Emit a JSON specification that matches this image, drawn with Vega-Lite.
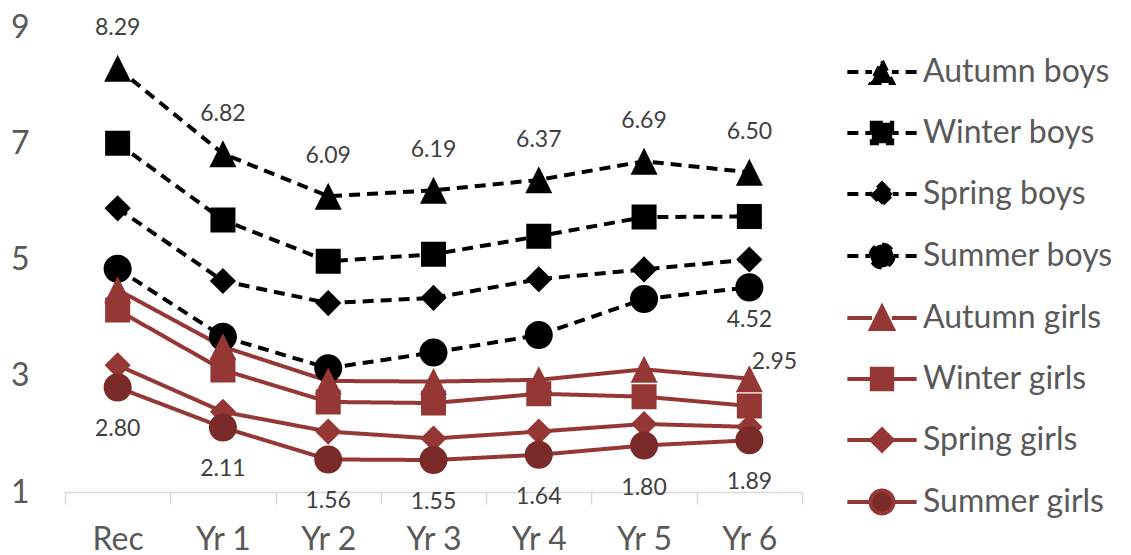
{
  "$schema": "https://vega.github.io/schema/vega-lite/v6.json",
  "width": 737,
  "height": 465,
  "autosize": {"type": "none"},
  "padding": {"left": 65, "top": 27, "right": 329, "bottom": 63},
  "background": "white",
  "config": {"view": {"stroke": null}, "font": "Lato"},
  "data": {"values": [
    {"series": "Autumn boys", "year": "Rec", "value": 8.29},
    {"series": "Autumn boys", "year": "Yr 1", "value": 6.82},
    {"series": "Autumn boys", "year": "Yr 2", "value": 6.09},
    {"series": "Autumn boys", "year": "Yr 3", "value": 6.19},
    {"series": "Autumn boys", "year": "Yr 4", "value": 6.37},
    {"series": "Autumn boys", "year": "Yr 5", "value": 6.69},
    {"series": "Autumn boys", "year": "Yr 6", "value": 6.50},
    {"series": "Winter boys", "year": "Rec", "value": 7.00},
    {"series": "Winter boys", "year": "Yr 1", "value": 5.68},
    {"series": "Winter boys", "year": "Yr 2", "value": 4.97},
    {"series": "Winter boys", "year": "Yr 3", "value": 5.09},
    {"series": "Winter boys", "year": "Yr 4", "value": 5.40},
    {"series": "Winter boys", "year": "Yr 5", "value": 5.73},
    {"series": "Winter boys", "year": "Yr 6", "value": 5.74},
    {"series": "Spring boys", "year": "Rec", "value": 5.88},
    {"series": "Spring boys", "year": "Yr 1", "value": 4.63},
    {"series": "Spring boys", "year": "Yr 2", "value": 4.25},
    {"series": "Spring boys", "year": "Yr 3", "value": 4.34},
    {"series": "Spring boys", "year": "Yr 4", "value": 4.66},
    {"series": "Spring boys", "year": "Yr 5", "value": 4.83},
    {"series": "Spring boys", "year": "Yr 6", "value": 5.00},
    {"series": "Summer boys", "year": "Rec", "value": 4.84},
    {"series": "Summer boys", "year": "Yr 1", "value": 3.67},
    {"series": "Summer boys", "year": "Yr 2", "value": 3.13},
    {"series": "Summer boys", "year": "Yr 3", "value": 3.40},
    {"series": "Summer boys", "year": "Yr 4", "value": 3.70},
    {"series": "Summer boys", "year": "Yr 5", "value": 4.32},
    {"series": "Summer boys", "year": "Yr 6", "value": 4.52},
    {"series": "Autumn girls", "year": "Rec", "value": 4.48},
    {"series": "Autumn girls", "year": "Yr 1", "value": 3.50},
    {"series": "Autumn girls", "year": "Yr 2", "value": 2.91},
    {"series": "Autumn girls", "year": "Yr 3", "value": 2.90},
    {"series": "Autumn girls", "year": "Yr 4", "value": 2.93},
    {"series": "Autumn girls", "year": "Yr 5", "value": 3.11},
    {"series": "Autumn girls", "year": "Yr 6", "value": 2.95},
    {"series": "Winter girls", "year": "Rec", "value": 4.13},
    {"series": "Winter girls", "year": "Yr 1", "value": 3.10},
    {"series": "Winter girls", "year": "Yr 2", "value": 2.55},
    {"series": "Winter girls", "year": "Yr 3", "value": 2.53},
    {"series": "Winter girls", "year": "Yr 4", "value": 2.69},
    {"series": "Winter girls", "year": "Yr 5", "value": 2.64},
    {"series": "Winter girls", "year": "Yr 6", "value": 2.48},
    {"series": "Spring girls", "year": "Rec", "value": 3.18},
    {"series": "Spring girls", "year": "Yr 1", "value": 2.38},
    {"series": "Spring girls", "year": "Yr 2", "value": 2.04},
    {"series": "Spring girls", "year": "Yr 3", "value": 1.92},
    {"series": "Spring girls", "year": "Yr 4", "value": 2.04},
    {"series": "Spring girls", "year": "Yr 5", "value": 2.17},
    {"series": "Spring girls", "year": "Yr 6", "value": 2.12},
    {"series": "Summer girls", "year": "Rec", "value": 2.80},
    {"series": "Summer girls", "year": "Yr 1", "value": 2.11},
    {"series": "Summer girls", "year": "Yr 2", "value": 1.56},
    {"series": "Summer girls", "year": "Yr 3", "value": 1.55},
    {"series": "Summer girls", "year": "Yr 4", "value": 1.64},
    {"series": "Summer girls", "year": "Yr 5", "value": 1.80},
    {"series": "Summer girls", "year": "Yr 6", "value": 1.89}
  ]},
  "encoding": {
    "x": {
      "field": "year", "type": "nominal",
      "sort": ["Rec", "Yr 1", "Yr 2", "Yr 3", "Yr 4", "Yr 5", "Yr 6"],
      "scale": {"type": "band", "paddingInner": 0, "paddingOuter": 0},
      "axis": {
        "title": null, "labelAngle": 0, "tickBand": "extent",
        "domainColor": "#d9d9d9", "domainWidth": 1.5,
        "tickColor": "#d9d9d9", "tickWidth": 1.5, "tickSize": 12,
        "labelFontSize": 32, "labelColor": "#595959", "labelPadding": 20,
        "labelFont": "Lato", "grid": false
      }
    },
    "y": {
      "field": "value", "type": "quantitative",
      "scale": {"domain": [1, 9], "nice": false, "zero": false},
      "axis": {
        "title": null, "values": [1, 3, 5, 7, 9], "grid": false,
        "domain": false, "ticks": false, "labelFontSize": 32,
        "labelColor": "#595959", "labelPadding": 36, "labelFont": "Lato"
      }
    }
  },
  "layer": [
    {
      "mark": {"type": "line", "strokeWidth": 4, "strokeCap": "butt"},
      "encoding": {
        "color": {
          "field": "series", "type": "nominal",
          "scale": {
            "domain": ["Autumn boys", "Winter boys", "Spring boys", "Summer boys", "Autumn girls", "Winter girls", "Spring girls", "Summer girls"],
            "range": ["#000000", "#000000", "#000000", "#000000", "#953735", "#953735", "#953735", "#953735"]
          },
          "legend": {
            "title": null, "orient": "none", "legendX": 778, "legendY": 29,
            "padding": 0, "symbolSize": 484, "symbolStrokeWidth": 4,
            "symbolOffset": 23, "labelOffset": 25, "rowPadding": 23,
            "labelFontSize": 32, "labelColor": "#595959", "labelFont": "Lato",
            "labelLimit": 400, "symbolOpacity": 1
          }
        },
        "strokeDash": {
          "field": "series", "type": "nominal",
          "scale": {
            "domain": ["Autumn boys", "Winter boys", "Spring boys", "Summer boys", "Autumn girls", "Winter girls", "Spring girls", "Summer girls"],
            "range": [[11, 7], [11, 7], [11, 7], [11, 7], [1, 0], [1, 0], [1, 0], [1, 0]]
          },
          "legend": null
        }
      }
    },
    {
      "mark": {"type": "point", "filled": true, "opacity": 1, "size": 729, "strokeWidth": 0},
      "encoding": {
        "shape": {
          "field": "series", "type": "nominal",
          "scale": {
            "domain": ["Autumn boys", "Winter boys", "Spring boys", "Summer boys", "Autumn girls", "Winter girls", "Spring girls", "Summer girls"],
            "range": [
              "M-3.15,0H-0.9M3.15,0H0.9M0,-1L1,1L-1,1Z",
              "M-3.15,0H-0.926M3.15,0H0.926M-0.926,-0.926H0.926V0.926H-0.926Z",
              "M-3.15,0H-0.97M3.15,0H0.97M0,-0.97L0.97,0L0,0.97L-0.97,0Z",
              "M-3.15,0H-1.04M3.15,0H1.04M-1.04,0A1.04,1.04,0,1,1,1.04,0A1.04,1.04,0,1,1,-1.04,0Z",
              "M-3.15,0H-0.9M3.15,0H0.9M0,-1L1,1L-1,1Z",
              "M-3.15,0H-0.926M3.15,0H0.926M-0.926,-0.926H0.926V0.926H-0.926Z",
              "M-3.15,0H-0.97M3.15,0H0.97M0,-0.97L0.97,0L0,0.97L-0.97,0Z",
              "M-3.15,0H-1.04M3.15,0H1.04M-1.04,0A1.04,1.04,0,1,1,1.04,0A1.04,1.04,0,1,1,-1.04,0Z"
            ]
          },
          "legend": null
        },
        "fill": {
          "field": "series", "type": "nominal",
          "scale": {
            "domain": ["Autumn boys", "Winter boys", "Spring boys", "Summer boys", "Autumn girls", "Winter girls", "Spring girls", "Summer girls"],
            "range": ["#000000", "#000000", "#000000", "#000000", "#953735", "#953735", "#953735", "#7a2b29"]
          },
          "legend": null
        }
      }
    },
    {
      "transform": [{"filter": "datum.series == 'Autumn boys'"}],
      "mark": {"type": "text", "dy": -40, "fontSize": 23, "font": "Lato", "color": "#404040", "baseline": "middle"},
      "encoding": {"text": {"field": "value", "type": "quantitative", "format": ".2f"}}
    },
    {
      "transform": [{"filter": "datum.series == 'Summer girls'"}],
      "mark": {"type": "text", "dy": 42, "fontSize": 23, "font": "Lato", "color": "#404040", "baseline": "middle"},
      "encoding": {"text": {"field": "value", "type": "quantitative", "format": ".2f"}}
    },
    {
      "transform": [{"filter": "datum.series == 'Summer boys' && datum.year == 'Yr 6'"}],
      "mark": {"type": "text", "dy": 33, "fontSize": 23, "font": "Lato", "color": "#404040", "baseline": "middle"},
      "encoding": {"text": {"field": "value", "type": "quantitative", "format": ".2f"}}
    },
    {
      "transform": [{"filter": "datum.series == 'Autumn girls' && datum.year == 'Yr 6'"}],
      "mark": {"type": "text", "dx": 25, "dy": -17, "fontSize": 23, "font": "Lato", "color": "#404040", "baseline": "middle"},
      "encoding": {"text": {"field": "value", "type": "quantitative", "format": ".2f"}}
    }
  ]
}
